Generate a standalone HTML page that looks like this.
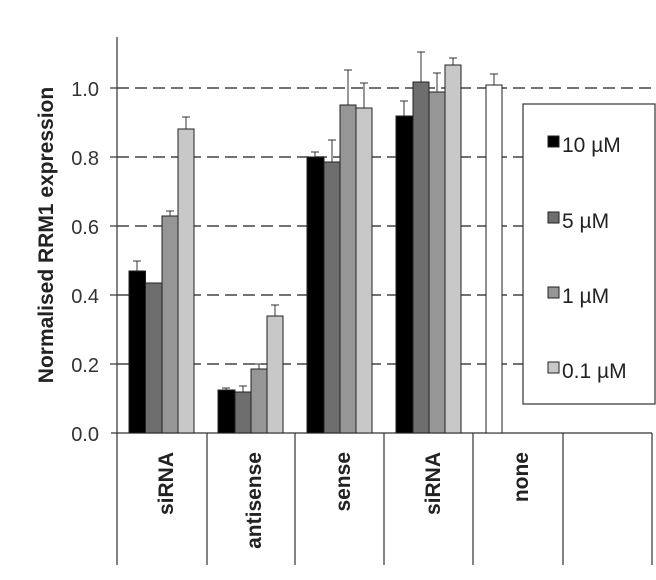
<!DOCTYPE html>
<html><head><meta charset="utf-8"><style>body{margin:0;background:#fff}</style></head><body>
<svg width="656" height="575" xmlns="http://www.w3.org/2000/svg" font-family="Liberation Sans, sans-serif">
<g stroke="#444" stroke-width="1.5" stroke-dasharray="12,6">
<line x1="117" y1="88" x2="652" y2="88"/><line x1="117" y1="157" x2="652" y2="157"/><line x1="117" y1="226" x2="652" y2="226"/><line x1="117" y1="295" x2="652" y2="295"/><line x1="117" y1="364" x2="652" y2="364"/>
</g>
<g stroke="#333" stroke-width="1.2">
<line x1="117" y1="37" x2="117" y2="565"/><line x1="111" y1="433" x2="652" y2="433"/>
<line x1="110" y1="88" x2="117" y2="88"/><line x1="110" y1="157" x2="117" y2="157"/><line x1="110" y1="226" x2="117" y2="226"/><line x1="110" y1="295" x2="117" y2="295"/><line x1="110" y1="364" x2="117" y2="364"/>
<line x1="207" y1="433" x2="207" y2="565"/><line x1="295" y1="433" x2="295" y2="565"/><line x1="384" y1="433" x2="384" y2="565"/><line x1="473" y1="433" x2="473" y2="565"/><line x1="563" y1="433" x2="563" y2="565"/><line x1="652" y1="433" x2="652" y2="565"/>
</g>
<g stroke="#333" stroke-width="1">
<line x1="137" y1="271" x2="137" y2="261"/><line x1="133" y1="261" x2="141" y2="261"/>
<line x1="170" y1="216" x2="170" y2="211"/><line x1="166" y1="211" x2="174" y2="211"/>
<line x1="186" y1="129" x2="186" y2="117"/><line x1="182" y1="117" x2="190" y2="117"/>
<line x1="226" y1="390" x2="226" y2="388"/><line x1="222" y1="388" x2="230" y2="388"/>
<line x1="243" y1="392" x2="243" y2="386"/><line x1="239" y1="386" x2="247" y2="386"/>
<line x1="259" y1="369" x2="259" y2="364"/><line x1="255" y1="364" x2="263" y2="364"/>
<line x1="275" y1="316" x2="275" y2="305"/><line x1="271" y1="305" x2="279" y2="305"/>
<line x1="315" y1="157" x2="315" y2="152"/><line x1="311" y1="152" x2="319" y2="152"/>
<line x1="332" y1="162" x2="332" y2="140"/><line x1="328" y1="140" x2="336" y2="140"/>
<line x1="348" y1="105" x2="348" y2="70"/><line x1="344" y1="70" x2="352" y2="70"/>
<line x1="364" y1="108" x2="364" y2="83"/><line x1="360" y1="83" x2="368" y2="83"/>
<line x1="404" y1="116" x2="404" y2="101"/><line x1="400" y1="101" x2="408" y2="101"/>
<line x1="421" y1="82" x2="421" y2="52"/><line x1="417" y1="52" x2="425" y2="52"/>
<line x1="437" y1="92" x2="437" y2="73"/><line x1="433" y1="73" x2="441" y2="73"/>
<line x1="453" y1="65" x2="453" y2="58"/><line x1="449" y1="58" x2="457" y2="58"/>
<line x1="494" y1="85" x2="494" y2="74"/><line x1="490" y1="74" x2="498" y2="74"/>
</g>
<g stroke="#222" stroke-width="1">
<rect x="129" y="271" width="16.5" height="162" fill="#000"/><rect x="145.5" y="283" width="16.5" height="150" fill="#6e6e6e"/><rect x="162" y="216" width="16" height="217" fill="#969696"/><rect x="178" y="129" width="16" height="304" fill="#c8c8c8"/>
<rect x="218" y="390" width="17" height="43" fill="#000"/><rect x="235" y="392" width="16" height="41" fill="#6e6e6e"/><rect x="251" y="369" width="16" height="64" fill="#969696"/><rect x="267" y="316" width="16" height="117" fill="#c8c8c8"/>
<rect x="307" y="157" width="17" height="276" fill="#000"/><rect x="324" y="162" width="16" height="271" fill="#6e6e6e"/><rect x="340" y="105" width="16" height="328" fill="#969696"/><rect x="356" y="108" width="16" height="325" fill="#c8c8c8"/>
<rect x="396" y="116" width="17" height="317" fill="#000"/><rect x="413" y="82" width="16" height="351" fill="#6e6e6e"/><rect x="429" y="92" width="16" height="341" fill="#969696"/><rect x="445" y="65" width="16" height="368" fill="#c8c8c8"/>
<rect x="486" y="85" width="16" height="348" fill="#fff"/>
</g>
<rect x="523" y="104" width="132" height="300" fill="#fff" stroke="#333" stroke-width="1.2"/>
<g stroke="#222" stroke-width="1">
<rect x="548" y="136" width="11" height="11" fill="#000"/><rect x="548" y="212" width="11" height="11" fill="#6e6e6e"/><rect x="548" y="287" width="11" height="11" fill="#969696"/><rect x="548" y="362" width="11" height="11" fill="#c8c8c8"/>
</g>
<g font-size="21" fill="#222">
<text x="562" y="152">10 µM</text><text x="562" y="228">5 µM</text><text x="562" y="303">1 µM</text><text x="562" y="378">0.1 µM</text>
</g>
<g font-size="20" fill="#333" text-anchor="end">
<text x="99" y="96">1.0</text><text x="99" y="165">0.8</text><text x="99" y="234">0.6</text><text x="99" y="303">0.4</text><text x="99" y="372">0.2</text><text x="99" y="441">0.0</text>
</g>
<text transform="translate(53,235) rotate(-90)" text-anchor="middle" font-size="21" font-weight="bold" fill="#222">Normalised RRM1 expression</text>
<g font-size="21" font-weight="bold" fill="#222" text-anchor="end">
<text transform="translate(173,452) rotate(-90)">siRNA</text>
<text transform="translate(261,452) rotate(-90)">antisense</text>
<text transform="translate(350,452) rotate(-90)">sense</text>
<text transform="translate(440,452) rotate(-90)">siRNA</text>
<text transform="translate(528,452) rotate(-90)">none</text>
</g>
</svg>
</body></html>
